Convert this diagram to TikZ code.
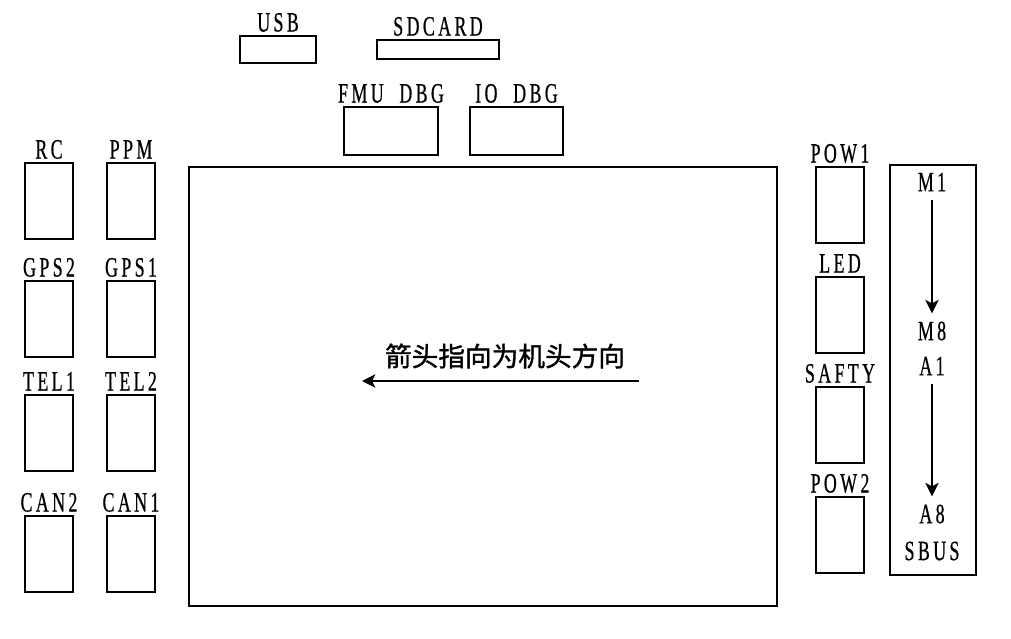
\documentclass[tikz,border=0pt]{standalone}
\usepackage{fontspec}
\setmainfont[FakeStretch=0.64,LetterSpace=12,FakeBold=0.6]{Liberation Serif}
\newfontfamily\cjk[FakeBold=1.2]{Noto Sans CJK SC}
\usetikzlibrary{arrows.meta}
\def\px{0.75pt}
\tikzset{
  port/.style={draw, line width=1.5pt, inner sep=0pt},
  lbl/.style={font=\fontsize{21}{24}\selectfont, inner sep=0pt, anchor=base},
  txt/.style={font=\fontsize{21}{24}\selectfont, inner sep=1pt},
  arr/.style={line width=1.3pt, -{Stealth[length=10pt,width=10pt,inset=2.5pt]}},
}
\newcommand{\portbox}[6]{% name, cx, cy, w, h, label
  \node[port, minimum width={#4*\px}, minimum height={#5*\px}] (#1) at (#2,#3) {};
  \node[lbl] (#1-l) at ([yshift=2.6pt]#1.north) {#6};
}
\begin{document}
\begin{tikzpicture}[x=0.75pt,y=-0.75pt]
\useasboundingbox (0,0) rectangle (1011,639);
% top
\portbox{usb}{278}{49.5}{76}{27}{USB}
\portbox{sd}{438}{49.5}{122}{19}{SDCARD}
\portbox{fmu}{391}{131}{94}{48}{FMU\ \ DBG}
\portbox{io}{516.5}{131}{93}{48}{IO\ \ DBG}
% main board
\node[port, minimum width={588*\px}, minimum height={439*\px}] (main) at (483,386.5) {};
% left columns
\portbox{rc}{49}{201}{48}{76}{RC}
\portbox{ppm}{131}{201}{48}{76}{PPM}
\portbox{gps2}{49}{319}{48}{76}{GPS2}
\portbox{gps1}{131}{319}{48}{76}{GPS1}
\portbox{tel1}{49}{433}{48}{76}{TEL1}
\portbox{tel2}{131}{433}{48}{76}{TEL2}
\portbox{can2}{49}{554}{48}{76}{CAN2}
\portbox{can1}{131}{554}{48}{76}{CAN1}
% right column
\portbox{pow1}{840}{205}{48}{76}{POW1}
\portbox{led}{840}{315}{48}{76}{LED}
\portbox{safty}{840}{425}{48}{76}{SAFTY}
\portbox{pow2}{840}{535}{48}{76}{POW2}
% motor output block
\node[port, minimum width={86*\px}, minimum height={410*\px}] (pwm) at (933,370) {};
\node[txt] (m1) at (932,182) {M1};
\node[txt] (m8) at (932,331) {M8};
\node[txt] (a1) at (932,366) {A1};
\node[txt] (a8) at (932,514) {A8};
\node[txt] (sbus) at (932,551) {SBUS};
\draw[arr] ([yshift=-5pt]m1.south) -- ([yshift=5pt]m8.north);
\draw[arr] ([yshift=-5pt]a1.south) -- ([yshift=5pt]a8.north);
% heading arrow
\node[font=\cjk\fontsize{20}{24}\selectfont, inner sep=0pt] (head) at (505,356) {箭头指向为机头方向};
\coordinate (hs) at (639,381);
\coordinate (he) at (362,381);
\draw[arr] (hs) -- (he);
\end{tikzpicture}
\end{document}
